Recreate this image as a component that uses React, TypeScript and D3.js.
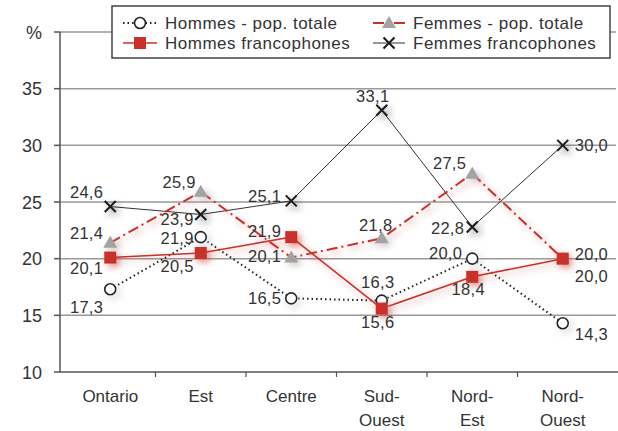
import React from 'react';
import * as d3 from 'd3';

// données (taux en %)
const regions = ['Ontario', 'Est', 'Centre', 'Sud-|Ouest', 'Nord-|Est', 'Nord-|Ouest'];
const hommesPop = [17.3, 21.9, 16.5, 16.3, 20.0, 14.3];
const hommesFr = [20.1, 20.5, 21.9, 15.6, 18.4, 20.0];
const femmesPop = [21.4, 25.9, 20.1, 21.8, 27.5, 20.0];
const femmesFr = [24.6, 23.9, 25.1, 33.1, 22.8, 30.0];
const yTicks = [10, 15, 20, 25, 30, 35];
const legendLabels = ['Hommes - pop. totale', 'Femmes - pop. totale', 'Hommes francophones', 'Femmes francophones'];

// placement of the value labels: [anchor, dx, dy]
type Lab = [string, number, number];
const labHommesPop: Lab[] = [['end', -7, 18], ['end', -7, 1], ['end', -10, 0], ['middle', -4, -18], ['end', -10, -5], ['start', 12, 11]];
const labHommesFr: Lab[] = [['end', -7, 11], ['end', -7, 13], ['end', -10, -6], ['middle', -4, 14], ['middle', -4, 12], ['start', 12, 18]];
const labFemmesPop: Lab[] = [['end', -7, -10], ['end', -5, -10], ['end', -10, -1], ['middle', -6, -13], ['end', -6, -10], ['start', 12, -4]];
const labFemmesFr: Lab[] = [['end', -7, -14], ['end', -7, 5], ['end', -10, -5], ['middle', -9, -14], ['end', -8, 1], ['start', 12, 0]];

const W = 618;
const H = 431;
const FONT = '"Liberation Sans", Arial, sans-serif';
const RED = '#c8302a';
const TXT = '#333';

const fmt = (v: number) => v.toFixed(1).replace('.', ',');

function Circle({ x, y }: { x: number; y: number }) {
  return <circle cx={x} cy={y} r={5.5} fill="#fff" stroke="#222" strokeWidth={1.6} />;
}
function Square({ x, y }: { x: number; y: number }) {
  return <rect x={x - 6} y={y - 6} width={12} height={12} fill={RED} />;
}
function Tri({ x, y }: { x: number; y: number }) {
  return <path d={`M${x},${y - 7}L${x + 7},${y + 5}L${x - 7},${y + 5}Z`} fill="#a3a3a3" />;
}
function Cross({ x, y }: { x: number; y: number }) {
  return <path d={`M${x - 5.5},${y - 5.5}L${x + 5.5},${y + 5.5}M${x - 5.5},${y + 5.5}L${x + 5.5},${y - 5.5}`} stroke="#1a1a1a" strokeWidth={2} />;
}

export default function App() {
  const x = d3.scaleBand<string>().domain(regions).range([65, 608]).padding(0);
  const y = d3.scaleLinear().domain([10, 40]).range([372, 32]);
  const cx = (r: string) => (x(r) as number) + x.bandwidth() / 2;

  const line = d3.line<number>().x((_, i) => cx(regions[i])).y(d => y(d));

  const labels = (vals: number[], lab: Lab[], key: string) =>
    vals.map((v, i) => (
      <text
        key={key + i}
        x={cx(regions[i]) + lab[i][1]}
        y={y(v) + lab[i][2] + 5.8}
        textAnchor={lab[i][0] as any}
        fontSize={16.5}
        letterSpacing={0.3}
        fill={TXT}
      >
        {fmt(v)}
      </text>
    ));

  const gridVals = [...yTicks.slice(1), 40];

  return (
    <svg width={W} height={H} style={{ position: 'absolute', left: 0, top: 0, fontFamily: FONT }}>
      <defs>
        <filter id="sh" filterUnits="userSpaceOnUse" x={0} y={0} width={W} height={H}>
          <feGaussianBlur in="SourceGraphic" stdDeviation={3.5} result="b" />
          <feOffset in="b" dx={3} dy={3} result="o" />
          <feComponentTransfer in="o" result="t">
            <feFuncA type="linear" slope={0.55} />
          </feComponentTransfer>
          <feMerge>
            <feMergeNode in="t" />
            <feMergeNode in="SourceGraphic" />
          </feMerge>
        </filter>
      </defs>
      <rect width={W} height={H} fill="#fff" />

      {/* grille */}
      {gridVals.map(t => (
        <line key={'g' + t} x1={60} x2={616} y1={y(t)} y2={y(t)} stroke="#9a9a9a" strokeWidth={1.5} />
      ))}

      {/* axes */}
      <line x1={60} x2={60} y1={y(40)} y2={y(10)} stroke="#555" strokeWidth={1.5} />
      <line x1={60} x2={618} y1={y(10)} y2={y(10)} stroke="#555" strokeWidth={1.5} />
      {[...yTicks, 40].map(t => (
        <g key={'yt' + t}>
          <line x1={54} x2={60} y1={y(t)} y2={y(t)} stroke="#555" strokeWidth={1.5} />
          <text x={42} y={y(t) + 6.5} textAnchor="end" fontSize={18} fill={TXT}>
            {t === 40 ? '%' : t}
          </text>
        </g>
      ))}
      {regions.slice(1).map(r => (
        <line key={'xt' + r} x1={x(r)} x2={x(r)} y1={y(10)} y2={y(10) + 5} stroke="#555" strokeWidth={1.2} />
      ))}
      {regions.map(r => (
        <text key={'xl' + r} x={cx(r)} y={402} textAnchor="middle" fontSize={17} fill={TXT}>
          {r.split('|').map((s, i) => (
            <tspan key={i} x={cx(r)} dy={i === 0 ? 0 : 24}>
              {s}
            </tspan>
          ))}
        </text>
      ))}

      {/* séries */}
      <path d={line(femmesFr) || ''} fill="none" stroke="#333" strokeWidth={1} />
      <path d={line(hommesPop) || ''} fill="none" stroke="#222" strokeWidth={2} strokeDasharray="1.5,3" />
      <g filter="url(#sh)">
        <path d={line(femmesPop) || ''} fill="none" stroke={RED} strokeWidth={2} strokeDasharray="11,4,2,4" />
        <path d={line(hommesFr) || ''} fill="none" stroke={RED} strokeWidth={1.5} />
      </g>
      <g filter="url(#sh)">
        {hommesPop.map((v, i) => <Circle key={'c' + i} x={cx(regions[i])} y={y(v)} />)}
        {femmesPop.map((v, i) => <Tri key={'t' + i} x={cx(regions[i])} y={y(v)} />)}
        {hommesFr.map((v, i) => <Square key={'s' + i} x={cx(regions[i])} y={y(v)} />)}
        {femmesFr.map((v, i) => <Cross key={'x' + i} x={cx(regions[i])} y={y(v)} />)}
      </g>

      {labels(femmesFr, labFemmesFr, 'lf')}
      {labels(femmesPop, labFemmesPop, 'lp')}
      {labels(hommesFr, labHommesFr, 'lh')}
      {labels(hommesPop, labHommesPop, 'lo')}

      {/* légende */}
      <rect x={112} y={6} width={498} height={52} fill="#fff" stroke="#444" strokeWidth={1.5} />
      <line x1={123} x2={157} y1={23} y2={23} stroke="#222" strokeWidth={2} strokeDasharray="1.5,3" />
      <Circle x={140} y={23} />
      <line x1={123} x2={157} y1={43} y2={43} stroke={RED} strokeWidth={1.5} />
      <Square x={140} y={43} />
      <line x1={373} x2={405} y1={23} y2={23} stroke={RED} strokeWidth={2} strokeDasharray="11,4,2,4" />
      <Tri x={389} y={23} />
      <line x1={373} x2={405} y1={43} y2={43} stroke="#333" strokeWidth={1} />
      <Cross x={389} y={43} />
      {legendLabels.map((t, i) => (
        <text key={'lg' + i} x={i % 2 === 0 ? 165 : 413} y={i < 2 ? 29 : 49} fontSize={17} letterSpacing={0.5} fill={TXT}>
          {t}
        </text>
      ))}
    </svg>
  );
}
